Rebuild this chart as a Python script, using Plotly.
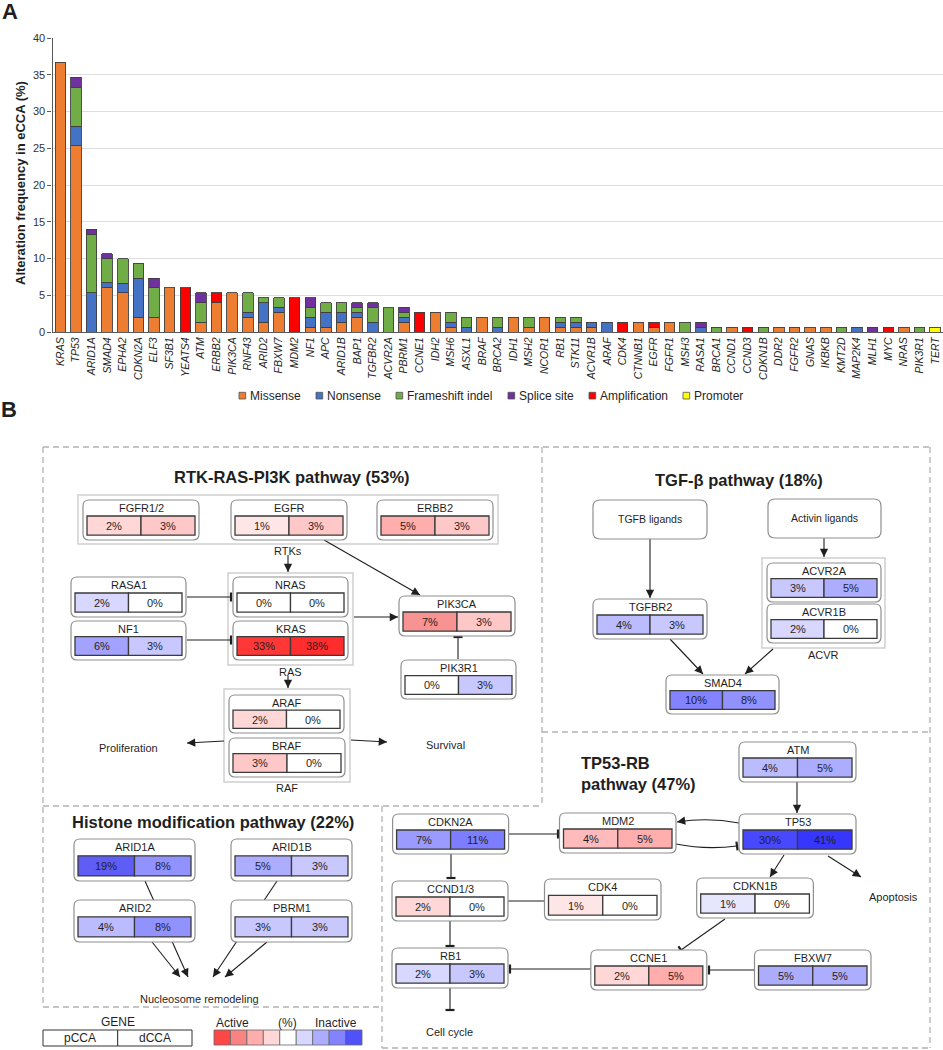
import math
import plotly.graph_objects as go
from plotly.colors import sample_colorscale

W, H = 943, 1050
FONT = 'Liberation Sans, Arial, Helvetica, sans-serif'
INK = '#1f1f1f'

#-------------------------------------------------------------------------------
#   Panel A: alteration frequency in eCCA (%), stacked by alteration type
#-------------------------------------------------------------------------------
genes = ['KRAS', 'TP53', 'ARID1A', 'SMAD4', 'EPHA2', 'CDKN2A', 'ELF3', 'SF3B1', 'YEATS4', 'ATM',
         'ERBB2', 'PIK3CA', 'RNF43', 'ARID2', 'FBXW7', 'MDM2', 'NF1', 'APC', 'ARID1B', 'BAP1',
         'TGFBR2', 'ACVR2A', 'PBRM1', 'CCNE1', 'IDH2', 'MSH6', 'ASXL1', 'BRAF', 'BRCA2', 'IDH1',
         'MSH2', 'NCOR1', 'RB1', 'STK11', 'ACVR1B', 'ARAF', 'CDK4', 'CTNNB1', 'EGFR', 'FGFR1',
         'MSH3', 'RASA1', 'BRCA1', 'CCND1', 'CCND3', 'CDKN1B', 'DDR2', 'FGFR2', 'GNAS', 'IKBKB',
         'KMT2D', 'MAP2K4', 'MLH1', 'MYC', 'NRAS', 'PIK3R1', 'TERT']
missense = [36.67, 25.33, 0, 6.0, 5.33, 2.0, 2.0, 6.0, 0, 1.33,
            4.0, 5.33, 2.0, 1.33, 2.67, 0, 0.67, 0.67, 1.33, 2.0,
            0, 0, 1.33, 0, 2.67, 0.67, 0, 2.0, 0, 2.0,
            0.67, 2.0, 0.67, 0.67, 0.67, 0, 0, 1.33, 0.67, 1.33,
            0, 0, 0, 0.67, 0, 0, 0.67, 0.67, 0.67, 0.67,
            0, 0, 0, 0, 0.67, 0, 0]
nonsense = [0, 2.67, 5.33, 0.67, 1.33, 5.33, 0, 0, 0, 0,
            0, 0, 0.67, 2.67, 0.67, 0, 1.33, 2.0, 1.33, 0.67,
            1.33, 0, 0.67, 0, 0, 0.67, 0.67, 0, 0.67, 0,
            0, 0, 0.67, 0.67, 0.67, 1.33, 0, 0, 0, 0,
            0, 0.67, 0, 0, 0, 0, 0, 0, 0, 0,
            0, 0.67, 0, 0, 0, 0, 0]
frameshift = [0, 5.33, 8.0, 3.33, 3.33, 2.0, 4.0, 0, 0, 2.67,
              0, 0, 2.67, 0.67, 1.33, 0, 1.33, 1.33, 1.33, 0.67,
              2.0, 3.33, 0.67, 0, 0, 1.33, 1.33, 0, 1.33, 0,
              1.33, 0, 0.67, 0.67, 0, 0, 0, 0, 0, 0,
              1.33, 0, 0.67, 0, 0, 0.67, 0, 0, 0, 0,
              0.67, 0, 0, 0, 0, 0.67, 0]
splice = [0, 1.33, 0.67, 0.67, 0, 0, 1.33, 0, 0, 1.33,
          0, 0, 0, 0, 0, 0, 1.33, 0, 0, 0.67,
          0.67, 0, 0.67, 0, 0, 0, 0, 0, 0, 0,
          0, 0, 0, 0, 0, 0, 0, 0, 0, 0,
          0, 0.67, 0, 0, 0, 0, 0, 0, 0, 0,
          0, 0, 0.67, 0, 0, 0, 0]
amplification = [0, 0, 0, 0, 0, 0, 0, 0, 6.0, 0,
                 1.33, 0, 0, 0, 0, 4.67, 0, 0, 0, 0,
                 0, 0, 0, 2.67, 0, 0, 0, 0, 0, 0,
                 0, 0, 0, 0, 0, 0, 1.33, 0, 0.67, 0,
                 0, 0, 0, 0, 0.67, 0, 0, 0, 0, 0,
                 0, 0, 0, 0.67, 0, 0, 0]
promoter = [0] * 56 + [0.67]

mut_types = ['Missense', 'Nonsense', 'Frameshift indel', 'Splice site', 'Amplification', 'Promoter']
mut_values = [missense, nonsense, frameshift, splice, amplification, promoter]
mut_colors = ['#ED7D31', '#4472C4', '#70AD47', '#7030A0', '#FF0000', '#FFFF00']
legend_x = [239, 316, 396, 508, 589, 683]

#-------------------------------------------------------------------------------
#   Panel B: pathway genes, % altered in pCCA / dCCA
#-------------------------------------------------------------------------------
path_genes = ['FGFR1/2', 'EGFR', 'ERBB2', 'RASA1', 'NF1', 'NRAS', 'KRAS', 'PIK3CA', 'PIK3R1',
              'ARAF', 'BRAF', 'TGFBR2', 'ACVR2A', 'ACVR1B', 'SMAD4', 'ARID1A', 'ARID1B',
              'ARID2', 'PBRM1', 'ATM', 'TP53', 'MDM2', 'CDKN2A', 'CCND1/3', 'CDK4', 'CDKN1B',
              'RB1', 'CCNE1', 'FBXW7']
pcca = [2, 1, 5, 2, 6, 0, 33, 7, 0, 2, 3, 4, 3, 2, 10, 19, 5, 4, 3, 4, 30, 4, 7, 2, 1, 1, 2, 2, 5]
dcca = [3, 3, 3, 0, 3, 0, 38, 3, 3, 0, 0, 3, 5, 0, 8, 8, 3, 8, 3, 5, 41, 5, 11, 0, 0, 0, 3, 5, 5]
activated = ['FGFR1/2', 'EGFR', 'ERBB2', 'NRAS', 'KRAS', 'PIK3CA', 'ARAF', 'BRAF',
             'MDM2', 'CCND1/3', 'CDK4', 'CCNE1']
legend_levels = [25, 10, 5, 2]

# box layout in page pixels: x0, y0, width, height
node_pos = {
    'FGFR1/2': (83, 500, 116, 40), 'EGFR': (231, 500, 116, 40), 'ERBB2': (377, 500, 116, 40),
    'RASA1': (71, 577, 115, 40), 'NF1': (71, 621, 115, 39),
    'NRAS': (233, 577, 115, 40), 'KRAS': (233, 621, 115, 39),
    'PIK3CA': (399, 596, 116, 40), 'PIK3R1': (401, 660, 115, 39),
    'ARAF': (229, 695, 115, 38), 'BRAF': (229, 738, 116, 39),
    'TGFBR2': (593, 599, 114, 40), 'ACVR2A': (767, 563, 114, 39), 'ACVR1B': (767, 604, 114, 39),
    'SMAD4': (666, 675, 113, 39),
    'ARID1A': (74, 839, 121, 42), 'ARID1B': (231, 839, 121, 42),
    'ARID2': (74, 900, 121, 42), 'PBRM1': (231, 900, 121, 42),
    'ATM': (739, 742, 117, 40), 'TP53': (739, 814, 117, 40), 'MDM2': (559.5, 813, 116.5, 40),
    'CDKN2A': (392.6, 814, 116, 40), 'CCND1/3': (392, 881, 116, 40), 'CDK4': (544.5, 879, 116.5, 41),
    'CDKN1B': (696.7, 878, 116.7, 40), 'RB1': (392, 948, 116, 40),
    'CCNE1': (590.8, 950, 116, 40), 'FBXW7': (754.5, 950, 116.5, 40),
}

SCALE_MAX = 45.0
BLUE_SCALE = [[0, 'rgb(255,255,255)'], [0.02, 'rgb(232,232,255)'], [0.07, 'rgb(198,198,255)'],
              [0.12, 'rgb(168,168,255)'], [0.2, 'rgb(138,138,255)'], [0.27, 'rgb(117,117,255)'],
              [0.45, 'rgb(90,90,245)'], [0.7, 'rgb(69,69,255)'], [1, 'rgb(48,48,255)']]
RED_SCALE = [[0, 'rgb(255,255,255)'], [0.02, 'rgb(255,232,232)'], [0.07, 'rgb(255,198,198)'],
             [0.12, 'rgb(255,168,168)'], [0.16, 'rgb(247,144,144)'], [0.45, 'rgb(255,80,80)'],
             [0.7, 'rgb(255,58,58)'], [1, 'rgb(255,32,32)']]


def cell_color(v, active):
    scale = RED_SCALE if active else BLUE_SCALE
    return sample_colorscale(scale, [min(v, SCALE_MAX) / SCALE_MAX])[0]


#-------------------------------------------------------------------------------
#   helpers: everything in panel B sits on a pixel axis pair (x2 / y2)
#-------------------------------------------------------------------------------
under, over, annots = [], [], []


def seg(x0, y0, x1, y1, color=INK, width=1.1, dash=None, dest=None):
    (under if dest is None else dest).append(dict(
        type='line', xref='x2', yref='y2', x0=x0, y0=y0, x1=x1, y1=y1,
        line=dict(color=color, width=width, dash=dash)))


def txt(x, y, s, size=11, bold=False, **kw):
    annots.append(dict(xref='x2', yref='y2', x=x, y=y, showarrow=False,
                       text='<b>%s</b>' % s if bold else s,
                       font=dict(family=FONT, size=size, color=INK), **kw))


def head(x1, y1, ux, uy):
    annots.append(dict(xref='x2', yref='y2', axref='x2', ayref='y2', x=x1, y=y1,
                       ax=x1 - ux * 7, ay=y1 - uy * 7, text='', showarrow=True,
                       arrowhead=2, arrowsize=1.5, arrowwidth=1.1, arrowcolor=INK))


def unit(dx, dy):
    n = math.hypot(dx, dy)
    return dx / n, dy / n


def arrow(x0, y0, x1, y1):
    seg(x0, y0, x1, y1)
    head(x1, y1, *unit(x1 - x0, y1 - y0))


def tbar(x1, y1, ux, uy):
    px, py = -uy, ux
    seg(x1 + px * 4.5, y1 + py * 4.5, x1 - px * 4.5, y1 - py * 4.5, width=2.2)


def inhibit(x0, y0, x1, y1):
    seg(x0, y0, x1, y1)
    tbar(x1, y1, *unit(x1 - x0, y1 - y0))


def curve(x0, y0, cx, cy, x1, y1, kind):
    under.append(dict(type='path', xref='x2', yref='y2',
                      path='M%s,%s Q%s,%s %s,%s' % (x0, y0, cx, cy, x1, y1),
                      line=dict(color=INK, width=1.1)))
    u = unit(x1 - cx, y1 - cy)
    if kind == 'arrow':
        head(x1, y1, *u)
    else:
        tbar(x1, y1, *u)


def rrect(x0, y0, x1, y1, r=6):
    return ('M%s,%s L%s,%s Q%s,%s %s,%s L%s,%s Q%s,%s %s,%s L%s,%s Q%s,%s %s,%s '
            'L%s,%s Q%s,%s %s,%s Z' % (
                x0 + r, y0, x1 - r, y0, x1, y0, x1, y0 + r, x1, y1 - r, x1, y1, x1 - r, y1,
                x0 + r, y1, x0, y1, x0, y1 - r, x0, y0 + r, x0, y0, x0 + r, y0))


def rbox(x0, y0, x1, y1, r=6):
    over.append(dict(type='path', xref='x2', yref='y2', path=rrect(x0, y0, x1, y1, r),
                     fillcolor='white', line=dict(color='#8f8f8f', width=1.2)))


def cell(x0, y0, x1, y1, fill, color='#3a3a3a', width=1.3):
    over.append(dict(type='rect', xref='x2', yref='y2', x0=x0, y0=y0, x1=x1, y1=y1,
                     fillcolor=fill, line=dict(color=color, width=width)))


#-------------------------------------------------------------------------------
#   Panel A: stacked bars
#-------------------------------------------------------------------------------
fig = go.Figure()
for name, vals, col in zip(mut_types, mut_values, mut_colors):
    fig.add_trace(go.Bar(
        x=genes, y=[v if v else None for v in vals], name=name,
        marker=dict(color=col, line=dict(color='#3f3f3f', width=0.9)),
        showlegend=False, xaxis='x', yaxis='y'))

fig.add_trace(go.Scatter(x=[0, W], y=[0, H], mode='markers', marker=dict(opacity=0),
                         hoverinfo='skip', showlegend=False, xaxis='x2', yaxis='y2'))

# manual legend under the gene names
for lx, name, col in zip(legend_x, mut_types, mut_colors):
    over.append(dict(type='rect', xref='x2', yref='y2', x0=lx, y0=392.3, x1=lx + 6.7, y1=399,
                     fillcolor=col, line=dict(color='#505050', width=0.8)))
    txt(lx + 8.5, 395.7, name, size=12, xanchor='left')

txt(10, 11, 'A', size=22, bold=True)
txt(9, 409, 'B', size=22, bold=True)
txt(20, 183, 'Alteration frequency in eCCA (%)', size=13, bold=True, textangle=-90)

#-------------------------------------------------------------------------------
#   Panel B: dashed section frames, titles, group frames
#-------------------------------------------------------------------------------
DASH = dict(color='#b3b3b3', width=1.3, dash='6px,4px')
for x0, y0, x1, y1 in [(43, 447, 930, 447), (43, 447, 43, 1007), (930, 447, 930, 1048),
                       (542, 447, 542, 806), (542, 732, 930, 732), (43, 806, 542, 806),
                       (382, 806, 382, 1048), (43, 1007, 382, 1007), (382, 1048, 930, 1048)]:
    seg(x0, y0, x1, y1, **DASH)

txt(291.7, 477, 'RTK-RAS-PI3K pathway (53%)', size=16.5, bold=True)
txt(739, 480, 'TGF-β pathway (18%)', size=16.5, bold=True)
txt(213, 822, 'Histone modification pathway (22%)', size=16.5, bold=True)
txt(579, 752, 'TP53-RB<br>pathway (47%)', size=16.5, bold=True,
    xanchor='left', yanchor='top', align='left')

for x0, y0, x1, y1 in [(78, 495, 498, 544), (228, 573, 353, 665),
                       (224, 689, 350, 782), (762, 558, 885, 648)]:
    under.append(dict(type='rect', xref='x2', yref='y2', x0=x0, y0=y0, x1=x1, y1=y1,
                      line=dict(color='#cfcfcf', width=1.5)))

# labels
for x, y, s in [(288, 551, 'RTKs'), (290, 672, 'RAS'), (287, 788, 'RAF'),
                (128, 748, 'Proliferation'), (445, 745, 'Survival'), (823, 655, 'ACVR'),
                (199, 999, 'Nucleosome remodeling'), (893, 897, 'Apoptosis'),
                (449, 1032, 'Cell cycle')]:
    txt(x, y, s, size=11)

# ligand boxes
rbox(593, 500, 707, 539, 7)
txt(650, 519, 'TGFB ligands', size=10.5)
rbox(768, 499, 881, 538, 7)
txt(824, 518, 'Activin ligands', size=10.5)

#-------------------------------------------------------------------------------
#   Panel B: edges
#-------------------------------------------------------------------------------
for e in [(288, 555, 288, 572), (324, 540, 420, 595), (354, 617, 398, 617),
          (288, 676, 288, 688), (224, 741, 187, 743), (351, 740, 387, 742),
          (650, 539, 650, 598), (824, 538, 824, 557), (670, 639, 703, 674),
          (773, 649, 745, 674),
          (145, 881, 188, 977), (152, 942, 180, 977), (277, 881, 213, 977), (267, 942, 225, 977),
          (797, 782, 797, 813), (784, 855, 770, 877), (828, 856, 861, 877)]:
    arrow(*e)

for e in [(187, 597, 231, 597), (187, 640, 231, 640), (458, 659, 458, 637),
          (509, 834, 558, 834), (451, 854, 451, 878), (450, 921, 450, 946),
          (450, 988, 450, 1010), (725, 919, 681, 950), (591, 969, 510, 969),
          (754.5, 970, 709, 970)]:
    inhibit(*e)

seg(508, 901, 544.5, 901)
curve(739, 823, 708, 817, 677, 822, 'arrow')
curve(676, 844, 706, 850, 737, 846, 'inhibit')

#-------------------------------------------------------------------------------
#   Panel B: gene boxes with pCCA | dCCA heat cells
#-------------------------------------------------------------------------------
for g, p, d in zip(path_genes, pcca, dcca):
    x0, y0, w, h = node_pos[g]
    rbox(x0, y0, x0 + w, y0 + h)
    txt(x0 + w / 2, y0 + 0.2 * h, g)
    cx0, cx1 = x0 + 4, x0 + w - 4
    cm = (cx0 + cx1) / 2
    cy0, cy1 = y0 + 0.4 * h, y0 + 0.88 * h
    act = g in activated
    cell(cx0, cy0, cm, cy1, cell_color(p, act))
    cell(cm, cy0, cx1, cy1, cell_color(d, act))
    txt((cx0 + cm) / 2, (cy0 + cy1) / 2 + 0.5, '%d%%' % p)
    txt((cm + cx1) / 2, (cy0 + cy1) / 2 + 0.5, '%d%%' % d)

#-------------------------------------------------------------------------------
#   Panel B: keys
#-------------------------------------------------------------------------------
txt(117.7, 1021.7, 'GENE', size=12)
cell(43, 1030, 117.7, 1046, 'white', color='#333333', width=1)
cell(117.7, 1030, 192, 1046, 'white', color='#333333', width=1)
txt(80, 1038, 'pCCA', size=12)
txt(155, 1038, 'dCCA', size=12)

strip = ([cell_color(v, True) for v in legend_levels] + ['white'] +
         [cell_color(v, False) for v in legend_levels[::-1]])
sw = (362 - 214) / len(strip)
for i, col in enumerate(strip):
    cell(214 + i * sw, 1030, 214 + (i + 1) * sw, 1045, col, color='#666666', width=0.8)
txt(232, 1023, 'Active', size=12)
txt(287, 1023, '(%)', size=12)
txt(336, 1023, 'Inactive', size=12)

#-------------------------------------------------------------------------------
#   layout
#-------------------------------------------------------------------------------
fig.update_layout(
    width=W, height=H, margin=dict(l=0, r=0, t=0, b=0, autoexpand=False),
    paper_bgcolor='white', plot_bgcolor='rgba(0,0,0,0)',
    barmode='stack', bargap=0.33, showlegend=False,
    font=dict(family=FONT, color=INK),
    xaxis=dict(domain=[52.5 / W, 1.0], range=[-0.5, len(genes) - 0.5], anchor='y',
               automargin=False,
               tickmode='array', tickvals=genes, ticktext=['<i>%s</i>' % g for g in genes],
               tickangle=-90, tickfont=dict(size=10.5, color='#262626'),
               showline=True, linecolor='#595959', linewidth=1.2, ticks='',
               showgrid=False, zeroline=False, fixedrange=True),
    yaxis=dict(domain=[1 - 332 / H, 1 - 38 / H], range=[0, 40], dtick=5, anchor='x',
               automargin=False,
               showgrid=True, gridcolor='#dedede', gridwidth=1.4,
               showline=True, linecolor='#595959', linewidth=1.2,
               ticks='outside', ticklen=4, tickcolor='#595959',
               tickfont=dict(size=11, color='#333333'), zeroline=False, fixedrange=True),
    xaxis2=dict(domain=[0, 1], range=[0, W], anchor='y2', visible=False, fixedrange=True,
                automargin=False),
    yaxis2=dict(domain=[0, 1], range=[H, 0], anchor='x2', visible=False, fixedrange=True,
                automargin=False),
    shapes=under + over,
    annotations=annots,
)

# the page body carries an 8px default margin; drop it so the figure sits at the corner
fig.write_html('out.html', config={'displayModeBar': False},
               post_script="document.body.style.margin='0px';")
